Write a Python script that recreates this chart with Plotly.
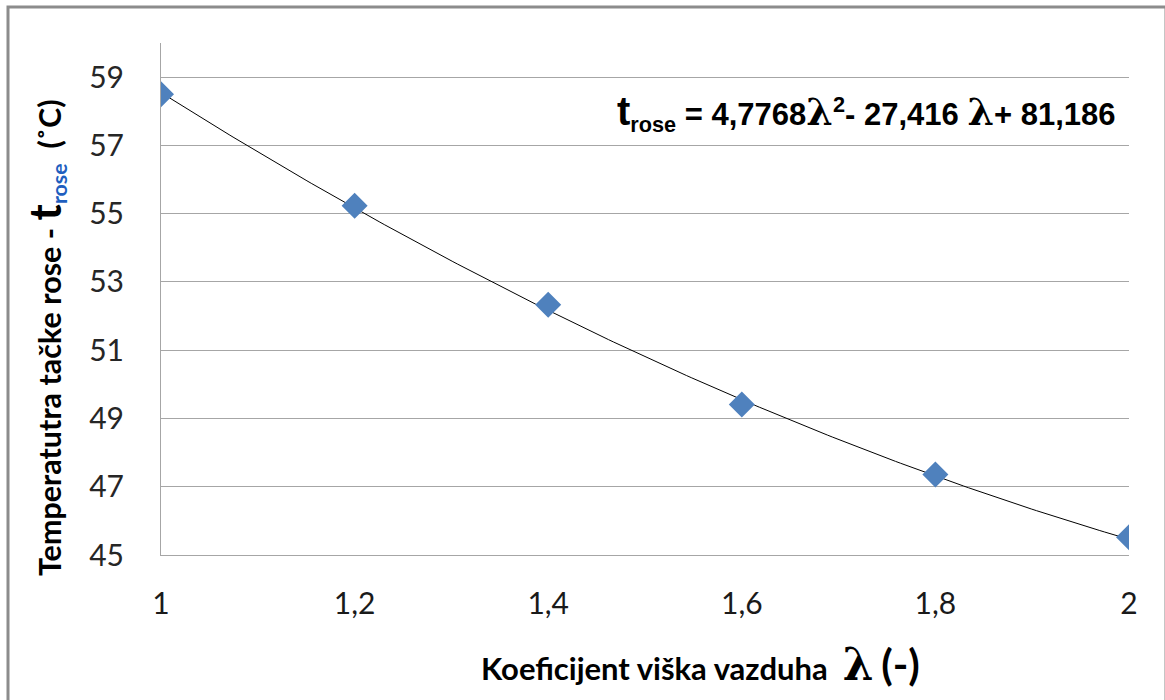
import numpy as np
import plotly.graph_objects as go

# Measured dew-point temperatures vs. excess air coefficient
lam = [1.0, 1.2, 1.4, 1.6, 1.8, 2.0]
t_rose = [58.5, 55.23, 52.33, 49.41, 47.36, 45.52]

# Quadratic trendline coefficients (a*λ² + b*λ + c)
coef = [4.7768, -27.416, 81.186]

x_ticks = [1, 1.2, 1.4, 1.6, 1.8, 2]
y_ticks = [45, 47, 49, 51, 53, 55, 57, 59]

xs = np.linspace(min(lam), max(lam), 200)
ys = np.polyval(coef, xs)

fig = go.Figure()
fig.add_trace(go.Scatter(x=xs, y=ys, mode="lines",
                         line=dict(color="black", width=1), hoverinfo="skip"))
fig.add_trace(go.Scatter(x=lam, y=t_rose, mode="markers",
                         marker=dict(symbol="diamond", size=20, color="#4F81BD",
                                     line=dict(width=0))))

grid = "#A6A6A6"
fig.update_layout(
    width=1165, height=700,
    margin=dict(l=161, r=36, t=43, b=145),
    paper_bgcolor="white", plot_bgcolor="white",
    showlegend=False,
    separators=",.",
    xaxis=dict(range=[1, 2], tickvals=x_ticks, tickformat="~g",
               showgrid=False, zeroline=False, showline=True, linecolor=grid,
               linewidth=1, ticks="", ticklabelstandoff=22,
               tickfont=dict(family="Lato, sans-serif", size=30, color="#1a1a1a")),
    yaxis=dict(range=[45, 60], tickvals=y_ticks, showgrid=True, gridcolor=grid,
               gridwidth=1, zeroline=False, showline=True, linecolor=grid,
               linewidth=1, ticks="", ticklabelstandoff=30,
               tickfont=dict(family="Lato, Carlito, sans-serif", size=30,
                             color="#262626")),
    shapes=[dict(type="rect", xref="paper", yref="paper",
                 x0=(8 - 161) / 968, x1=(1166 - 161) / 968,
                 y0=-(700 - 555 + 2) / 512, y1=1 + (43 - 7) / 512,
                 line=dict(color="#8C8C8C", width=3), layer="below")],
    annotations=[
        dict(xref="paper", yref="paper",
             x=(1118 - 161) / 968, y=1 - (113 - 43) / 512,
             xanchor="right", yanchor="middle", showarrow=False,
             text=("<span style='font-size:40px'>t</span><sub>rose</sub> = 4,7768"
                   "<span style='font-family:DejaVu Serif;font-size:38px'>λ</span><sup>2</sup>"
                   "- 27,416 <span style='font-family:DejaVu Serif;font-size:38px'>λ</span>"
                   "+ 81,186"),
             font=dict(family="Liberation Sans, Arial, sans-serif", size=31,
                       color="black", weight="bold")),
        dict(xref="paper", yref="paper",
             x=(700 - 161) / 968, y=-(664 - 555) / 512,
             xanchor="center", yanchor="middle", showarrow=False,
             text=("Koeficijent viška vazduha  "
                   "<span style='font-family:DejaVu Serif;font-size:44px'>λ</span> "
                   "<span style='font-size:42px'>(-)</span>"),
             font=dict(family="Lato, Carlito, sans-serif", size=31, color="black",
                       weight="bold")),
        dict(xref="paper", yref="paper",
             x=(45 - 161) / 968, y=1 - (338 - 43) / 512,
             xanchor="center", yanchor="middle", showarrow=False, textangle=-90,
             text=("Temperatutra tačke rose - "
                   "<span style='font-size:44px'>t</span>"
                   "<sub><span style='color:#1F5FBF'>rose</span></sub>  (˚C)"),
             font=dict(family="Lato, Carlito, sans-serif", size=30.5, color="black",
                       weight="bold")),
    ],
)

fig.write_html("out.html")
